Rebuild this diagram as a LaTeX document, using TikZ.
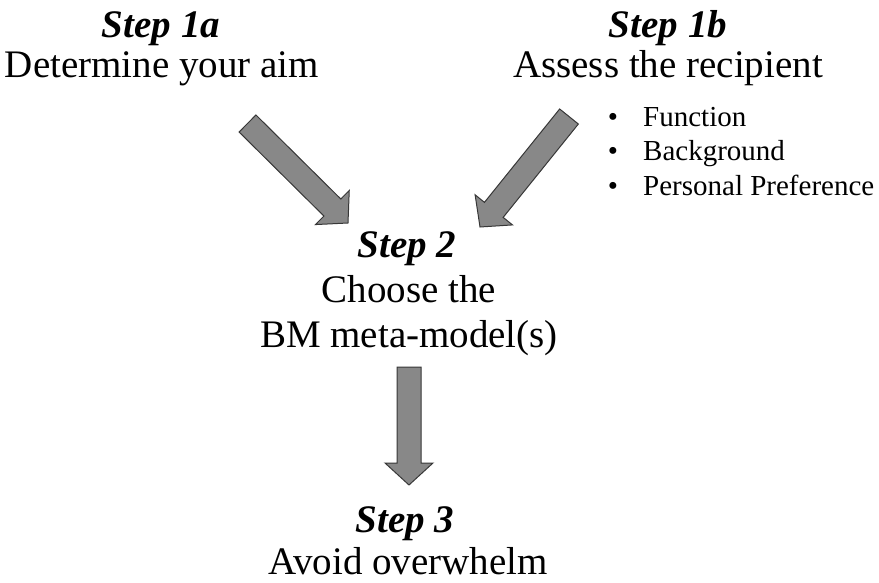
\documentclass[tikz,border=0pt]{standalone}
\usepackage{fontspec}
\setmainfont{Liberation Serif}
\usetikzlibrary{calc}

\definecolor{arrowfill}{RGB}{136,136,136}
\definecolor{arrowline}{RGB}{55,55,55}

\tikzset{
  big/.style={inner sep=0pt, anchor=base, font=\fontsize{39}{46}\selectfont},
  steplabel/.style={big, font=\fontsize{39}{46}\selectfont\bfseries\itshape},
  small/.style={inner sep=0pt, anchor=base west, font=\fontsize{29}{34}\selectfont},
  blockarrow/.style={draw=arrowline, fill=arrowfill, line width=1pt, line join=miter},
}

% block arrow from #1 to #2: shaft 24pt wide, head 48pt wide and 22pt long
\newcommand{\blockarrowfromto}[2]{%
  \draw[blockarrow]
    ($(#1)!12pt!90:(#2)$)
    -- ($($(#2)!22pt!(#1)$)!12pt!-90:(#1)$)
    -- ($($(#2)!22pt!(#1)$)!24pt!-90:(#1)$)
    -- (#2)
    -- ($($(#2)!22pt!(#1)$)!24pt!90:(#1)$)
    -- ($($(#2)!22pt!(#1)$)!12pt!90:(#1)$)
    -- ($(#1)!12pt!-90:(#2)$)
    -- cycle;}

\begin{document}
\begin{tikzpicture}[x=1pt,y=1pt]
\useasboundingbox (0,0) rectangle (879,-583);

% step 1a
\node[steplabel] (s1a) at (161,-38) {Step 1a};
\node[big] (t1a) at (162,-78) {Determine your aim};

% step 1b
\node[steplabel] (s1b) at (668,-38) {Step 1b};
\node[big] (t1b) at (668,-78) {Assess the recipient};
\node[small, anchor=base] (b1) at (613,-127) {\textbullet};
\node[small] (f1) at (643,-127) {Function};
\node[small, anchor=base] (b2) at (613,-161) {\textbullet};
\node[small] (f2) at (643,-161) {Background};
\node[small, anchor=base] (b3) at (613,-196) {\textbullet};
\node[small] (f3) at (643,-196) {Personal Preference};

% step 2
\node[steplabel] (s2) at (407,-258) {Step 2};
\node[big] (t2a) at (409,-302) {Choose the};
\node[big] (t2b) at (409,-347) {BM meta-model(s)};

% step 3
\node[steplabel] (s3) at (405,-532) {Step 3};
\node[big] (t3) at (408,-574) {Avoid overwhelm};

% arrow end points
\coordinate (a1s) at (247.5,-123.5);
\coordinate (a1e) at (348,-223);
\coordinate (a2s) at (569,-116.5);
\coordinate (a2e) at (480,-227);
\coordinate (a3s) at (409,-367);
\coordinate (a3e) at (409,-485);

\blockarrowfromto{a1s}{a1e}
\blockarrowfromto{a2s}{a2e}
\blockarrowfromto{a3s}{a3e}
\end{tikzpicture}
\end{document}
